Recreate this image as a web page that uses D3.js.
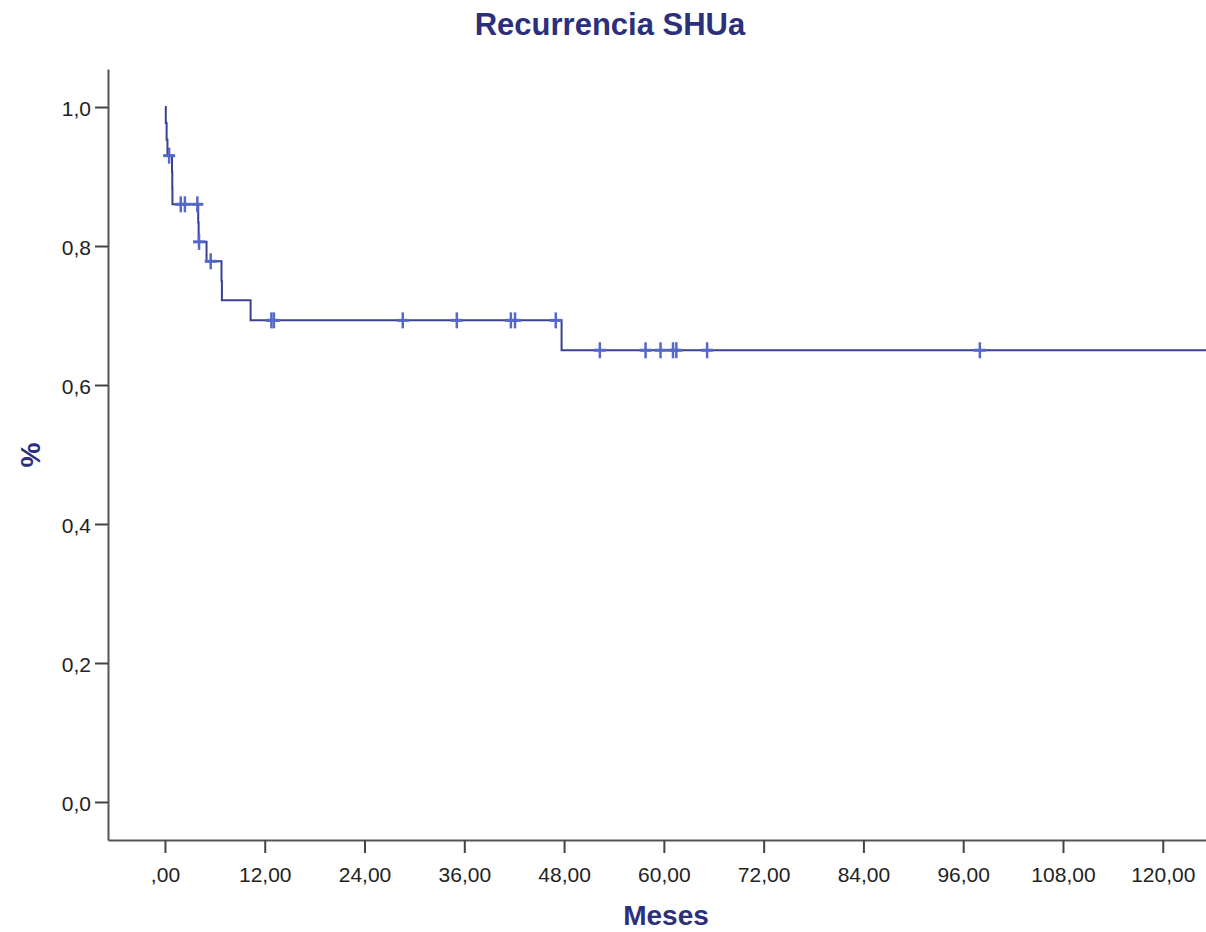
<!DOCTYPE html>
<html>
<head>
<meta charset="utf-8">
<script src="https://cdn.jsdelivr.net/npm/d3@7"></script>
<style>
  body { margin: 0; background: #fff; }
  svg { display: block; font-family: "Liberation Sans", Arial, sans-serif; }
</style>
</head>
<body>
<div id="chart"></div>
<script>
// Kaplan-Meier steps: time (meses) and survival after the drop
const stepTimes = [0, 0.1, 0.2, 0.3, 0.85, 0.88, 0.9, 4.0, 4.05, 5.0, 6.8, 6.85, 10.3, 47.7];
const stepSurv  = [1.0, 0.977, 0.953, 0.930, 0.907, 0.884, 0.860, 0.834, 0.806, 0.778, 0.750, 0.722, 0.693, 0.650];

// censored cases
const censorTimes = [0.5, 1.9, 2.4, 3.9, 4.1, 5.5, 12.8, 13.1, 28.6, 35.1, 41.6, 42.1, 47.0,
                     52.3, 57.8, 59.6, 61.1, 61.5, 65.2, 98.0];
const censorSurv  = [0.930, 0.860, 0.860, 0.860, 0.806, 0.778, 0.693, 0.693, 0.693, 0.693, 0.693, 0.693, 0.693,
                     0.650, 0.650, 0.650, 0.650, 0.650, 0.650, 0.650];

const xTicks = [0, 12, 24, 36, 48, 60, 72, 84, 96, 108, 120];
const xTickLabels = [",00", "12,00", "24,00", "36,00", "48,00", "60,00", "72,00", "84,00", "96,00", "108,00", "120,00"];
const yTicks = [0, 0.2, 0.4, 0.6, 0.8, 1.0];
const yTickLabels = ["0,0", "0,2", "0,4", "0,6", "0,8", "1,0"];

const xDomain = [-6.85, 125.2];

const width = 1206, height = 932;
const navy = "#2c2f7c";

const svg = d3.select("#chart").append("svg")
    .attr("width", width)
    .attr("height", height);

const x = d3.scaleLinear().domain(xDomain).range([108, 1206]);
const y = d3.scaleLinear().domain([-0.0547, 1.0547]).range([840, 69]);

// axes
const xAxis = svg.append("g")
    .attr("transform", `translate(0,840)`)
    .call(d3.axisBottom(x).tickValues(xTicks).tickSize(13).tickSizeOuter(0)
        .tickFormat((d, i) => xTickLabels[i]));

const yAxis = svg.append("g")
    .attr("transform", `translate(108,0)`)
    .call(d3.axisLeft(y).tickValues(yTicks).tickSize(13).tickSizeOuter(0)
        .tickFormat((d, i) => yTickLabels[i]));

[xAxis, yAxis].forEach(a => {
    a.select(".domain").attr("stroke", "#555").attr("stroke-width", 2);
    a.selectAll(".tick line").attr("stroke", "#444").attr("stroke-width", 2);
    a.selectAll(".tick text").attr("fill", "#222").style("font-size", "21px");
});
xAxis.selectAll(".tick text").attr("dy", "1.25em");
yAxis.selectAll(".tick text").attr("x", -17).attr("dy", "0.4em");

// survival curve
const pts = stepTimes.map((t, i) => [t, stepSurv[i]]);
pts.push([xDomain[1], stepSurv[stepSurv.length - 1]]);

svg.append("path")
    .datum(pts)
    .attr("fill", "none")
    .attr("stroke", "#3b4090")
    .attr("stroke-width", 2)
    .attr("d", d3.line()
        .x(d => x(d[0]))
        .y(d => y(d[1]))
        .curve(d3.curveStepAfter));

// censor marks
const marks = svg.append("g")
    .attr("stroke", "#5468c8");

censorTimes.forEach((t, i) => {
    const cx = x(t), cy = y(censorSurv[i]);
    marks.append("line").attr("stroke-width", 2.5)
        .attr("x1", cx).attr("x2", cx).attr("y1", cy - 8).attr("y2", cy + 8);
    marks.append("line").attr("stroke-width", 3)
        .attr("x1", cx - 6).attr("x2", cx + 6).attr("y1", cy).attr("y2", cy);
});

// titles
svg.append("text")
    .attr("x", 610)
    .attr("y", 35)
    .attr("text-anchor", "middle")
    .attr("fill", navy)
    .style("font-size", "31px")
    .style("font-weight", "bold")
    .text("Recurrencia SHUa");

svg.append("text")
    .attr("x", 666)
    .attr("y", 925)
    .attr("text-anchor", "middle")
    .attr("fill", navy)
    .style("font-size", "28px")
    .style("font-weight", "bold")
    .text("Meses");

svg.append("text")
    .attr("transform", "translate(40,455) rotate(-90)")
    .attr("text-anchor", "middle")
    .attr("fill", navy)
    .style("font-size", "28px")
    .style("font-weight", "bold")
    .text("%");
</script>
</body>
</html>
